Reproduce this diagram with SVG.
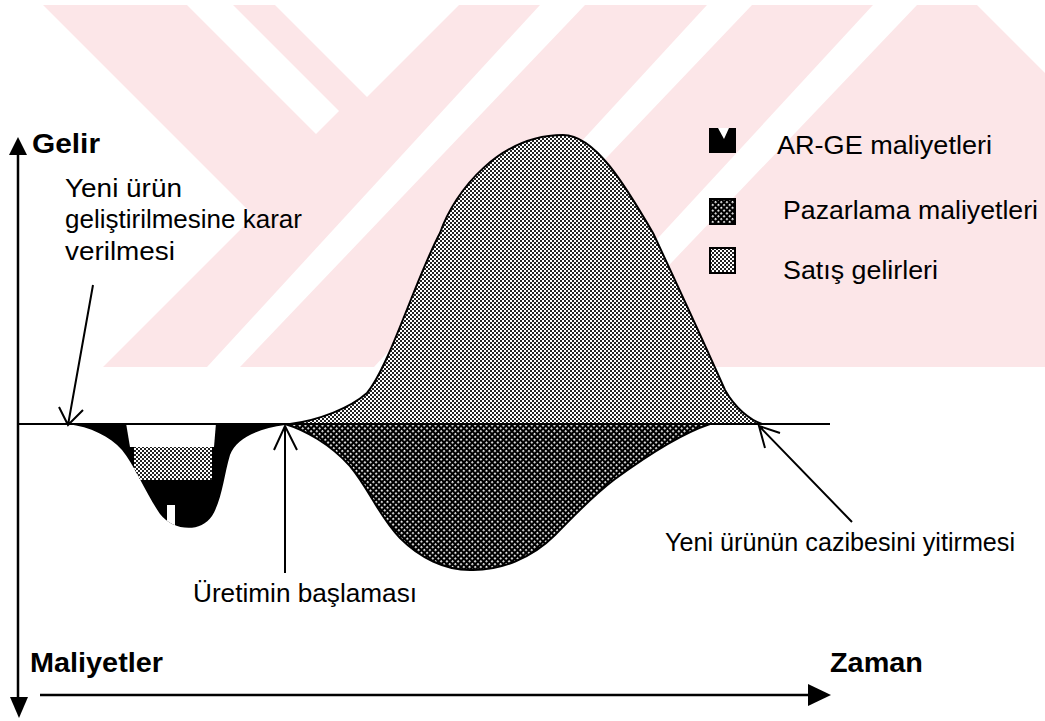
<svg xmlns="http://www.w3.org/2000/svg" width="1045" height="721" viewBox="0 0 1045 721">
<style>
.t{font-family:"Liberation Sans",Arial,sans-serif;font-size:25px;fill:#000}
.b{font-weight:bold;font-size:27px}
.ax{stroke:#000;stroke-width:2.5;fill:none}
.ln{stroke:#000;stroke-width:2;fill:none}
.wm{fill:#fce6e8}
.wh{fill:#fff}
</style>
<defs>
<pattern id="pSat" width="4" height="4" patternUnits="userSpaceOnUse">
<rect width="4" height="4" fill="#fff"/><rect width="2" height="2" fill="#222"/><rect x="2" y="2" width="2" height="2" fill="#222"/>
</pattern>
<pattern id="pPaz" width="4" height="4" patternUnits="userSpaceOnUse" patternTransform="rotate(45)">
<rect width="4" height="4" fill="#000"/><rect width="1.8" height="1.8" fill="#fff"/>
</pattern>
<clipPath id="cArge"><path d="M68,424 C90,427 110,436 122,450 C135,466 145,492 160,514 C172,530 200,534 212,516 C222,500 224,475 230,455 C236,438 260,428 285,425 L285,424 Z"/></clipPath>
</defs>
<rect width="1045" height="721" fill="#fff"/>
<g id="watermark">
<rect class="wm" x="43" y="5" width="1002" height="362"/>
<polygon class="wh" points="0,5 43,5 254,216 103,367 0,367"/>
<polygon class="wh" points="187,5 233,5 339,111 316,134"/>
<polygon class="wh" points="275,5 459,5 367,97"/>
<polygon class="wh" points="540,5 585,5 240,367 207,367"/>
<polygon class="wh" points="707,5 752,5 407,367 374,367"/>
<polygon class="wh" points="873,5 917,5 572,367 539,367"/>
<polygon class="wh" points="977,5 1045,5 1045,73"/>
</g>
<g id="satis-area">
<path d="M290,424 C320,420 350,408 367,393 C390,365 415,280 440,233 C455,190 500,135 563,135 C595,135 625,185 653,233 C675,280 705,345 725,390 C735,408 750,420 762,424 Z" fill="url(#pSat)" stroke="#000" stroke-width="2"/>
</g>
<g id="pazarlama-area">
<path d="M285,424 C305,430 330,444 350,466 C370,490 378,515 400,538 C420,558 445,570 470,570 C500,571 532,558 555,535 C575,515 590,498 615,479 C645,457 680,434 710,424 Z" fill="url(#pPaz)" stroke="#000" stroke-width="2"/>
</g>
<g id="arge-area">
<g clip-path="url(#cArge)">
<rect x="60" y="420" width="230" height="120" fill="#000"/>
<polygon points="126,423 216,423 214,447 130,447" fill="#fff"/>
<rect x="134" y="447" width="78" height="33" fill="url(#pSat)"/>
<rect x="167" y="505" width="8" height="25" fill="#fff"/>
</g>
</g>
<g id="axes">
<line class="ax" x1="18" y1="152" x2="18" y2="700"/>
<polygon points="18,137 9,155 27,155"/>
<polygon points="19,718 10,697 28,697"/>
<line class="ax" x1="40" y1="695" x2="810" y2="695"/>
<polygon points="831,695 808,684 808,706"/>
<line class="ln" x1="18" y1="424" x2="830" y2="424"/>
</g>
<g id="connectors">
<path class="ln" d="M93,285 L68,425 M59,407 L68,425 L83,410"/>
<path class="ln" d="M285,573 L285,426 M274,450 L285,426 L297,450"/>
<path class="ln" d="M852,522 L759,426 M765,448 L759,426 L780,433"/>
</g>
<g id="legend">
<g id="leg-arge">
<rect x="709" y="128" width="27" height="25" fill="#000"/>
<polygon points="718,128 729,128 724,139" fill="#fff"/>
<text class="t" x="777" y="154" textLength="215" lengthAdjust="spacingAndGlyphs">AR-GE maliyetleri</text>
</g>
<g id="leg-pazarlama">
<rect x="710" y="199" width="25" height="25" fill="url(#pPaz)" stroke="#000" stroke-width="2"/>
<text class="t" x="783" y="219" textLength="255" lengthAdjust="spacingAndGlyphs">Pazarlama maliyetleri</text>
</g>
<g id="leg-satis">
<rect x="710" y="248" width="25" height="25" fill="url(#pSat)" stroke="#000" stroke-width="2"/>
<text class="t" x="783" y="279" textLength="155" lengthAdjust="spacingAndGlyphs">Satış gelirleri</text>
</g>
</g>
<g id="labels">
<text class="t b" x="32" y="153" textLength="68" lengthAdjust="spacingAndGlyphs">Gelir</text>
<text class="t" x="65" y="197" textLength="117" lengthAdjust="spacingAndGlyphs">Yeni ürün</text>
<text class="t" x="65" y="228" textLength="237" lengthAdjust="spacingAndGlyphs">geliştirilmesine karar</text>
<text class="t" x="65" y="260" textLength="110" lengthAdjust="spacingAndGlyphs">verilmesi</text>
<text class="t" x="665" y="551" textLength="350" lengthAdjust="spacingAndGlyphs">Yeni ürünün cazibesini yitirmesi</text>
<text class="t" x="193" y="602" textLength="224" lengthAdjust="spacingAndGlyphs">Üretimin başlaması</text>
<text class="t b" x="30" y="672" textLength="133" lengthAdjust="spacingAndGlyphs">Maliyetler</text>
<text class="t b" x="830" y="672" textLength="93" lengthAdjust="spacingAndGlyphs">Zaman</text>
</g>
</svg>
